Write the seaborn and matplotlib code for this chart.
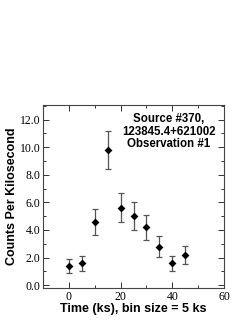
import matplotlib
matplotlib.use("Agg")
import matplotlib.pyplot as plt
import seaborn as sns
import pandas as pd
from matplotlib.ticker import MultipleLocator, FormatStrFormatter

sns.set_style("ticks")
plt.rcParams.update({"text.color": "black", "axes.labelcolor": "black",
                     "xtick.labelcolor": "black", "ytick.labelcolor": "black"})

time_ks = [0, 5, 10, 15, 20, 25, 30, 35, 40, 45]
rate = [1.4, 1.6, 4.6, 9.8, 5.6, 5.0, 4.2, 2.8, 1.6, 2.2]
err = [0.52, 0.55, 0.95, 1.4, 1.05, 1.0, 0.92, 0.75, 0.55, 0.65]
title_lines = "Source #370,\n123845.4+621002\nObservation #1"

df = pd.DataFrame({"t": time_ks, "r": rate, "e": err})

fig = plt.figure(figsize=(2.49, 3.23), dpi=100)
ax = fig.add_axes([43 / 249, 1 - 288 / 323, (224 - 43) / 249, (288 - 105) / 323])

ax.errorbar(df["t"], df["r"], yerr=df["e"], fmt="none", ecolor="#555555",
            elinewidth=0.9, capsize=2.5, capthick=0.9, zorder=2)
sns.scatterplot(data=df, x="t", y="r", marker="D", color="black", s=16,
                edgecolor="black", linewidth=0, ax=ax, zorder=3)

ax.set_xlim(-10, 60)
ax.set_ylim(-0.2, 13.05)
ax.xaxis.set_major_locator(MultipleLocator(20))
ax.xaxis.set_minor_locator(MultipleLocator(10))
ax.yaxis.set_major_locator(MultipleLocator(2))
ax.yaxis.set_minor_locator(MultipleLocator(1))
ax.yaxis.set_major_formatter(FormatStrFormatter("%.1f"))

ax.tick_params(which="both", direction="in", top=True, right=True,
               color="#333333", width=0.7, labelcolor="black")
ax.tick_params(which="major", length=4, labelsize=8.5, pad=2)
ax.tick_params(which="minor", length=2)
for lab in ax.get_xticklabels() + ax.get_yticklabels():
    lab.set_fontfamily("Liberation Serif")
for sp in ax.spines.values():
    sp.set_color("#444444")
    sp.set_linewidth(0.8)

ax.set_xlabel("Time (ks), bin size = 5 ks", fontfamily="Liberation Sans",
              fontweight="bold", fontsize=9, labelpad=0, color="black")
ax.set_ylabel("Counts Per Kilosecond", fontfamily="Liberation Sans",
              fontweight="bold", fontsize=9, labelpad=1, color="black")

ax.text(0.955, 0.955, title_lines, transform=ax.transAxes, ha="right", va="top",
        fontfamily="Liberation Sans", fontweight="bold", fontsize=8.3,
        linespacing=1.05, multialignment="center", color="black")

fig.savefig("out.png", dpi=100)
